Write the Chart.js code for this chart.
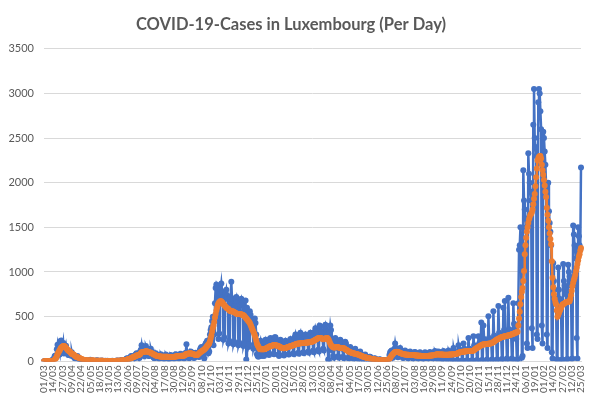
<!DOCTYPE html>
<html>
<head>
<meta charset="utf-8">
<script src="https://cdn.jsdelivr.net/npm/chart.js@4.4.1/dist/chart.umd.min.js"></script>
<style>
  html, body { margin: 0; padding: 0; background: #ffffff; }
  #wrap { width: 597px; height: 405px; position: relative; }
  canvas { display: block; }
</style>
</head>
<body>
<div id="wrap"><canvas id="c" width="597" height="405"></canvas></div>
<script>
// Tick labels shown on the x axis (every 13th day)
const tickLabels = ["01/03","14/03","27/03","09/04","22/04","05/05","18/05","31/05","13/06","26/06",
  "09/07","22/07","04/08","17/08","30/08","12/09","25/09","08/10","21/10","03/11","16/11","29/11",
  "12/12","25/12","07/01","20/01","02/02","15/02","28/02","13/03","26/03","08/04","21/04","04/05",
  "17/05","30/05","12/06","25/06","08/07","21/07","03/08","16/08","29/08","11/09","24/09","07/10",
  "20/10","02/11","15/11","28/11","11/12","24/12","06/01","19/01","01/02","14/02","27/02","12/03","25/03"];

// Daily cases, one row per week (Sun..Sat), starting Sun 01/03/2020
const dailyCases = [
0,0,0,1,1,2,0,
1,3,2,2,12,8,25,
21,59,63,67,135,186,128,
128,77,224,234,190,150,204,
86,150,130,175,126,110,70,
72,88,97,63,100,61,65,
49,33,39,31,52,60,44,
24,18,15,23,20,16,12,
9,6,8,12,10,7,5,
3,8,16,5,10,8,6,
2,4,6,5,10,12,3,
3,2,5,4,8,6,3,
1,3,5,2,4,5,2,
1,2,4,3,2,5,4,
2,3,4,6,5,8,7,
3,5,10,8,12,14,10,
6,8,15,22,30,34,28,
20,18,42,55,60,50,48,
32,30,70,80,90,85,70,
40,38,110,130,180,120,95,
65,55,160,170,150,130,110,
58,60,120,140,110,100,80,
40,35,80,90,75,70,55,
30,28,70,80,65,60,50,
28,25,65,75,60,58,48,
25,22,62,70,58,55,45,
30,28,70,80,72,65,52,
32,30,78,85,76,70,60,
35,30,80,95,190,75,65,
40,35,95,110,100,92,80,
40,38,80,95,85,82,72,
50,48,130,150,160,140,120,
70,30,180,200,210,230,190,
90,110,300,350,380,450,500,
180,300,650,820,860,840,700,
250,310,850,800,870,780,720,
240,270,700,760,800,740,700,
200,230,640,720,890,700,600,
190,220,620,700,720,650,560,
180,210,640,680,700,650,550,
170,200,600,680,20,600,500,
160,190,560,520,480,450,420,
140,170,480,430,300,80,60,
50,60,200,230,180,60,150,
70,60,220,240,200,180,160,
80,70,250,260,230,220,190,
85,80,270,270,240,210,180,
75,60,230,240,210,190,150,
70,65,210,230,200,185,160,
80,75,230,250,220,210,180,
90,80,270,300,250,230,190,
95,85,300,320,260,240,200,
100,90,280,300,270,250,210,
110,95,300,320,290,270,220,
120,100,330,370,340,300,260,
130,110,400,390,340,330,280,
140,120,390,410,360,330,300,
20,10,320,400,350,200,120,
60,40,250,260,220,200,150,
55,40,230,240,210,190,140,
50,35,210,220,200,160,120,
40,30,150,160,130,110,90,
35,25,130,140,110,90,70,
30,20,100,110,80,60,50,
20,12,70,75,55,45,35,
15,8,50,50,38,30,25,
8,5,35,30,24,18,15,
6,4,22,20,14,12,10,
4,2,15,12,10,14,18,
10,20,70,100,110,120,90,
40,60,140,200,150,140,110,
45,50,130,150,120,110,80,
38,40,115,120,100,90,60,
35,38,105,110,95,80,55,
32,34,100,105,90,75,50,
30,30,95,100,85,70,45,
28,28,90,100,85,70,45,
30,30,95,105,90,75,50,
32,35,105,115,100,85,60,
20,110,100,95,90,85,25,
18,115,100,92,88,80,22,
18,120,100,95,88,80,20,
5,150,110,100,95,90,10,
5,180,130,125,120,110,10,
8,200,140,135,130,125,12,
8,262,140,135,130,120,12,
10,280,180,170,160,150,15,
10,280,200,190,180,435,15,
10,400,250,230,210,200,20,
10,505,260,240,230,200,20,
15,560,290,270,260,230,20,
15,620,320,300,290,260,25,
10,600,350,675,320,300,30,
15,712,360,350,330,280,30,
20,650,420,400,380,250,20,
10,650,1250,1300,1500,1100,40,
60,2140,1800,1700,1600,1500,200,
150,2330,2100,2000,1900,1800,370,
150,2650,3050,2500,2400,2300,300,
250,2900,3050,3000,2800,2600,400,
200,2570,2500,2350,2200,1970,300,
150,2000,1680,1550,1450,1300,100,
30,1100,900,800,700,650,20,
20,1050,800,700,650,600,15,
20,1090,900,850,800,750,20,
25,1080,1000,950,900,850,25,
30,1520,1420,1300,1250,1150,260,
30,1500,1400,1300,1250,2170
];

// Rolling average series, one row per week (Sun..Sat)
const averageCases = [
0,0,0,0,0,1,1,
1,1,1,2,3,4,7,
10,18,27,36,55,80,95,
110,120,140,152,160,165,170,
172,168,160,150,140,130,120,
115,110,100,92,85,80,78,
72,65,58,52,48,45,43,
40,36,30,26,23,20,18,
16,14,12,10,9,8,8,
8,8,9,9,8,8,8,
8,7,6,6,6,6,6,
6,6,5,5,5,5,5,
4,4,4,4,4,3,3,
3,3,3,3,3,3,3,
3,4,4,4,5,5,5,
6,6,7,8,9,9,9,
10,11,12,15,18,21,23,
25,26,30,35,40,43,46,
48,50,55,60,65,67,68,
70,72,80,92,100,102,103,
105,108,110,112,112,110,108,
105,102,98,95,90,86,82,
78,74,70,66,63,60,58,
56,55,54,53,52,52,52,
51,50,50,50,50,50,50,
49,48,48,48,48,48,48,
49,50,52,53,55,56,57,
58,58,59,60,61,62,62,
63,64,68,78,82,84,85,
86,88,90,90,88,85,82,
78,75,72,70,70,70,72,
85,90,98,104,110,115,120,
125,132,140,150,160,170,180,
190,200,225,255,290,330,370,
400,440,490,530,570,600,630,
650,660,670,675,670,660,650,
640,630,620,610,600,595,590,
585,575,565,560,560,560,560,
555,550,545,540,535,530,530,
530,530,530,530,525,520,520,
515,510,500,490,480,470,460,
450,440,430,410,390,370,350,
330,310,290,260,230,200,180,
165,150,140,135,135,135,135,
135,135,138,140,145,150,155,
158,162,166,170,172,175,178,
180,182,182,180,178,176,174,
170,166,162,158,154,150,148,
146,146,148,150,152,155,158,
160,163,166,170,172,175,178,
180,183,186,190,192,195,197,
198,200,200,202,204,205,205,
205,206,207,208,208,209,210,
210,212,214,216,218,220,222,
225,230,235,240,245,250,255,
258,260,262,262,260,256,250,
248,250,252,255,258,260,260,
250,235,215,195,180,170,162,
158,155,155,156,158,160,160,
158,155,152,150,150,150,150,
148,145,140,135,130,125,120,
115,110,105,100,98,95,92,
90,88,86,84,82,80,78,
76,74,70,66,62,58,55,
52,50,47,44,42,40,38,
36,34,32,30,28,26,25,
23,22,20,19,18,17,16,
15,14,13,12,11,10,10,
9,9,8,8,9,10,12,
15,20,28,38,50,62,72,
82,90,98,103,105,106,105,
103,100,97,94,90,87,84,
82,80,78,76,75,74,73,
72,72,71,71,70,70,70,
70,69,68,67,66,65,65,
64,63,62,62,61,60,60,
60,60,60,60,60,60,60,
60,61,62,63,64,65,66,
67,68,70,72,74,76,78,
78,77,76,76,75,75,75,
75,74,74,74,74,74,74,
74,74,75,75,76,76,77,
78,79,80,81,82,83,84,
90,95,98,100,102,104,106,
107,108,109,110,111,112,113,
114,114,115,115,115,115,115,
118,122,127,133,140,146,150,
155,160,165,170,175,180,184,
187,189,190,191,192,193,194,
195,195,196,198,200,203,206,
210,215,220,226,232,238,244,
248,252,256,260,264,268,272,
274,276,278,280,282,284,286,
288,290,292,295,298,300,302,
305,308,312,316,320,323,326,
330,400,480,555,640,720,780,
820,900,1010,1200,1300,1385,1450,
1500,1550,1590,1620,1640,1650,1670,
1700,1760,1820,1875,1960,2060,2160,
2250,2275,2290,2300,2300,2270,2200,
2140,2090,2030,1970,1900,1840,1720,
1640,1575,1500,1430,1370,1310,1120,
935,830,750,700,665,640,570,
500,520,540,560,580,600,620,
635,640,645,650,655,660,665,
666,668,670,672,700,740,790,
840,880,910,935,970,1010,1050,
1090,1130,1170,1200,1240,1270
];

// Day categories (dd/mm), one per data point, starting 01/03/2020
const categories = [];
(function () {
  const d = new Date(Date.UTC(2020, 2, 1));
  for (let i = 0; i < dailyCases.length; i++) {
    const dd = String(d.getUTCDate()).padStart(2, '0');
    const mm = String(d.getUTCMonth() + 1).padStart(2, '0');
    categories.push(dd + '/' + mm);
    d.setUTCDate(d.getUTCDate() + 1);
  }
})();
const tickEvery = 13;

const ctx = document.getElementById('c').getContext('2d');
new Chart(ctx, {
  type: 'line',
  data: {
    labels: categories,
    datasets: [
      {
        label: 'Average',
        data: averageCases,
        order: 0,
        borderColor: '#ED7D31',
        backgroundColor: '#ED7D31',
        borderWidth: 2.5,
        pointRadius: 3,
        pointBorderWidth: 0,
        pointBackgroundColor: '#ED7D31',
        tension: 0
      },
      {
        label: 'Cases',
        data: dailyCases,
        order: 1,
        borderColor: '#4472C4',
        backgroundColor: '#4472C4',
        borderWidth: 2.5,
        pointRadius: 3,
        pointBorderWidth: 0,
        pointBackgroundColor: '#4472C4',
        tension: 0
      }
    ]
  },
  options: {
    responsive: false,
    animation: false,
    devicePixelRatio: 1,
    layout: { padding: { left: 0, right: 15, top: 11, bottom: 8 } },
    plugins: {
      legend: { display: false },
      tooltip: { enabled: false },
      title: {
        display: true,
        text: 'COVID-19-Cases in Luxembourg (Per Day)',
        color: '#595959',
        font: { family: 'Lato', size: 16.5, weight: 'bold' },
        padding: { top: 4, bottom: 14 }
      }
    },
    scales: {
      x: {
        type: 'category',
        offset: false,
        grid: { display: false, drawTicks: false },
        border: { display: true, color: '#d9d9d9', width: 1 },
        ticks: {
          autoSkip: false,
          maxRotation: 90,
          minRotation: 90,
          padding: 4,
          color: '#595959',
          font: { family: 'Lato', size: 10 },
          callback: function (val, i) {
            return i % tickEvery === 0 ? tickLabels[i / tickEvery] : null;
          }
        }
      },
      y: {
        min: 0,
        max: 3500,
        afterFit: function (scale) { scale.width = 44; },
        grid: { color: '#d9d9d9', drawTicks: false, lineWidth: 1 },
        border: { display: false },
        ticks: {
          stepSize: 500,
          padding: 10,
          color: '#595959',
          font: { family: 'Lato', size: 11 },
          callback: function (v) { return String(v); }
        }
      }
    }
  }
});
</script>
</body>
</html>
